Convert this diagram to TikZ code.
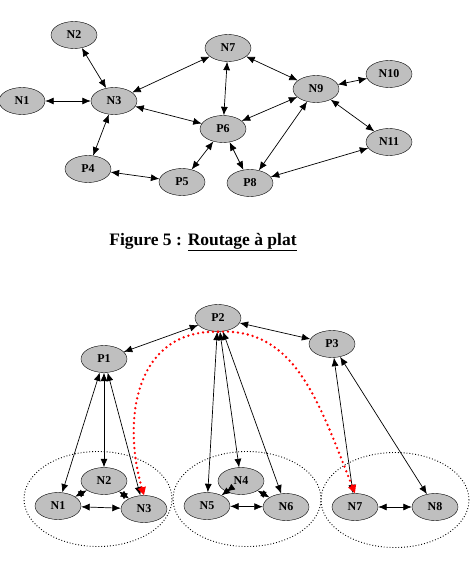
\documentclass[tikz,border=0pt]{standalone}
\usepackage{fontspec}
\setmainfont{Liberation Serif}
\usetikzlibrary{shapes.geometric, arrows.meta}

\begin{document}
\begin{tikzpicture}[x=1pt, y=-1pt, font=\bfseries\fontsize{12}{14}\selectfont,
    station/.style={ellipse, draw, fill=black!25, minimum width=46pt, minimum height=27pt, inner sep=0pt},
    link/.style={<->, >={Latex[length=8.5pt,width=7pt]}, line width=0.7pt},
    cluster/.style={ellipse, draw, dotted, line width=0.9pt, minimum width=148pt, minimum height=95pt},
    jump/.style={->, >={Triangle[length=8pt,width=8pt]}, red, line width=2.6pt, line cap=round, dash pattern=on 0pt off 5pt}]
            \useasboundingbox (0,0) rectangle (472,573);
            % routage a plat
            \node [station] (n_1) at (22,101) {N1};
            \node [station] (n_2) at (74,35) {N2};
            \node [station] (n_3) at (114,101) {N3};
            \node [station] (p_4) at (88,169) {P4};
            \node [station] (p_5) at (182,182) {P5};
            \node [station] (p_6) at (223,129) {P6};
            \node [station] (n_7) at (228,48) {N7};
            \node [station] (p_8) at (250,183) {P8};
            \node [station] (n_9) at (316,89) {N9};
            \node [station] (n_10) at (389,74) {N10};
            \node [station] (n_11) at (389,142) {N11};
            \path[link]
            	(n_3) edge (n_2)
            		edge (n_1)
            		edge (n_7)
            		edge (p_6)
            		edge (p_4)
            	(p_4) edge (p_5)
            	(p_6) edge (p_5)
            		edge (p_8)
            		edge (n_7)
            		edge (n_9)
            	(n_9) edge (n_7)
            		edge (p_8)
            		edge (n_10)
            		edge (n_11)
            	(n_11) edge (p_8);
            \node [font=\bfseries\fontsize{17.5}{20}\selectfont] (cap) at (203,242) {Figure 5 : \underline{Routage à plat}};
            % routage hierarchique
            \node [cluster] (c_1) at (98,499) {};
            \node [cluster] (c_2) at (247,499) {};
            \node [cluster] (c_3) at (395,500) {};
            \node [station] (bp_1) at (104,359) {P1};
            \node [station] (bp_2) at (218,318) {P2};
            \node [station] (bp_3) at (332,344) {P3};
            \node [station] (bn_1) at (58,506) {N1};
            \node [station] (bn_2) at (104,481) {N2};
            \node [station] (bn_3) at (144,509) {N3};
            \node [station] (bn_4) at (241,481) {N4};
            \node [station] (bn_5) at (207,506) {N5};
            \node [station] (bn_6) at (286,507) {N6};
            \node [station] (bn_7) at (355,507) {N7};
            \node [station] (bn_8) at (435,507) {N8};
            \path[link]
            	(bp_2) edge (bp_1)
            		edge (bp_3)
            		edge (bn_5)
            		edge (bn_4)
            		edge (bn_6)
            	(bp_1) edge (bn_1)
            		edge (bn_2)
            		edge (bn_3)
            	(bp_3) edge (bn_7)
            		edge (bn_8)
            	(bn_1) edge (bn_2)
            		edge (bn_3)
            	(bn_2) edge (bn_3)
            	(bn_4) edge (bn_5)
            		edge (bn_6)
            	(bn_5) edge (bn_6)
            	(bn_7) edge (bn_8);
            \draw[jump] (bp_2.south) .. controls (135,330) and (122,420) .. (bn_3.north);
            \draw[jump] (bp_2.south) .. controls (295,328) and (318,400) .. (bn_7.north);
\end{tikzpicture}
\end{document}
